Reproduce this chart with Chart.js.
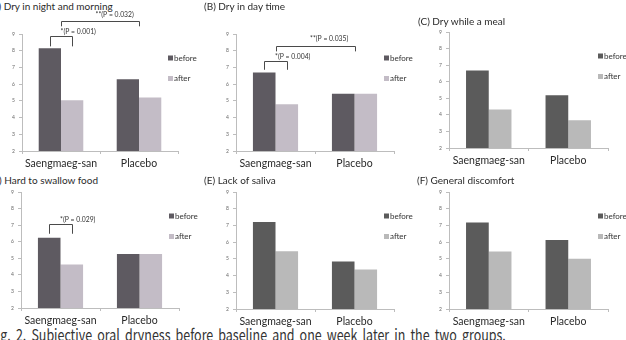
<!DOCTYPE html>
<html>
<head>
<meta charset="utf-8">
<title>Subjective oral dryness</title>
<script src="https://cdn.jsdelivr.net/npm/chart.js"></script>
<style>
  html, body { margin: 0; padding: 0; background: #fff; }
  body { width: 626px; height: 340px; position: relative; overflow: hidden; font-family: Lato, sans-serif; }
  canvas { position: absolute; }
  .title { position: absolute; font-size: 10px; line-height: 10px; color: #2a2a2a; white-space: nowrap; }
  .caption { position: absolute; left: -10px; top: 326px; font-family: "Noto Sans CJK KR", sans-serif; font-size: 16px; line-height: 16px;
             color: #333; white-space: nowrap; word-spacing: 3px; transform-origin: left top; }
</style>
</head>
<body>
<div class="caption" id="caption">Fig. 2. Subjective oral dryness before baseline and one week later in the two groups.</div>
<script>
// data
const groups = ['Saengmaeg-san', 'Placebo'];
const seriesNames = ['before', 'after'];
const yMin = 2, yMax = 9;

const nightBefore = [8.15, 6.3];
const nightAfter = [5.04, 5.2];
const dayBefore = [6.7, 5.42];
const dayAfter = [4.8, 5.42];
const mealBefore = [6.68, 5.18];
const mealAfter = [4.33, 3.68];
const swallowBefore = [6.24, 5.26];
const swallowAfter = [4.63, 5.26];
const salivaBefore = [7.2, 4.84];
const salivaAfter = [5.46, 4.36];
const discomfortBefore = [7.18, 6.13];
const discomfortAfter = [5.44, 5.0];

// significance brackets (levels in axis units)
const sigNight = [
  { text: '*(P = 0.001)', from: { bar: [0, 0] }, to: { bar: [1, 0] }, top: 8.86, leg: 8.26, labelY: 9.14, dx: -1 },
  { text: '**(P = 0.032)', from: { cat: 0 }, to: { cat: 1 }, top: 9.8, leg: 9.46, labelY: 10.16, dx: -5 }
];
const sigDay = [
  { text: '*(P = 0.004)', from: { bar: [0, 0] }, to: { bar: [1, 0] }, top: 7.4, leg: 6.86, labelY: 7.66, dx: -1 },
  { text: '**(P = 0.035)', from: { cat: 0 }, to: { cat: 1 }, top: 8.26, leg: 7.96, labelY: 8.7, dx: -6 }
];
const sigSwallow = [
  { text: '*(P = 0.029)', from: { bar: [0, 0] }, to: { bar: [1, 0] }, top: 7.06, leg: 6.48, labelY: 7.34, dx: -1 }
];

const lavender = ['#5e5a61', '#c3bcc6'];
const grey = ['#5b5b5b', '#b9b9b9'];

const panels = [
  { title: '(A) Dry in night and morning', before: nightBefore, after: nightAfter, sig: sigNight, colors: lavender,
    box: { left: 0, top: 0, w: 225, h: 172 }, area: { left: 22, right: 178, top: 34, bottom: 151 }, tpos: [-11, 1] },
  { title: '(B) Dry in day time', before: dayBefore, after: dayAfter, sig: sigDay, colors: lavender,
    box: { left: 205, top: 0, w: 225, h: 172 }, area: { left: 31, right: 189, top: 34, bottom: 151 }, tpos: [204, 1] },
  { title: '(C) Dry while a meal', before: mealBefore, after: mealAfter, sig: [], colors: grey,
    box: { left: 410, top: 0, w: 216, h: 170 }, area: { left: 39, right: 198, top: 32, bottom: 148 }, tpos: [418, 16] },
  { title: '(D) Hard to swallow food', before: swallowBefore, after: swallowAfter, sig: sigSwallow, colors: lavender,
    box: { left: 0, top: 158, w: 225, h: 172 }, area: { left: 21, right: 179, top: 34, bottom: 150 }, tpos: [-11, 175] },
  { title: '(E) Lack of saliva', before: salivaBefore, after: salivaAfter, sig: [], colors: grey,
    box: { left: 205, top: 158, w: 225, h: 172 }, area: { left: 31, right: 189, top: 34, bottom: 151 }, tpos: [204, 175] },
  { title: '(F) General discomfort', before: discomfortBefore, after: discomfortAfter, sig: [], colors: grey,
    box: { left: 410, top: 158, w: 216, h: 172 }, area: { left: 39, right: 198, top: 34, bottom: 151 }, tpos: [417, 175] }
];

function xOf(chart, ref) {
  if (ref.bar) return chart.getDatasetMeta(ref.bar[0]).data[ref.bar[1]].x;
  return chart.scales.x.getPixelForValue(ref.cat);
}

// brackets with P values
const sigPlugin = {
  id: 'sigMarks',
  afterDatasetsDraw(chart, args, opts) {
    const { ctx } = chart;
    const y = chart.scales.y;
    (opts.items || []).forEach(s => {
      const xa = Math.round(xOf(chart, s.from)) + 0.5;
      const xb = Math.round(xOf(chart, s.to)) + 0.5;
      const yt = Math.round(y.getPixelForValue(s.top)) + 0.5;
      const yl = y.getPixelForValue(s.leg);
      ctx.save();
      ctx.strokeStyle = '#4a4a4a';
      ctx.lineWidth = 1;
      ctx.beginPath();
      ctx.moveTo(xa, yl); ctx.lineTo(xa, yt); ctx.lineTo(xb, yt); ctx.lineTo(xb, yl);
      ctx.stroke();
      ctx.fillStyle = '#333';
      ctx.font = '6.8px Lato';
      ctx.textAlign = 'left';
      ctx.textBaseline = 'middle';
      ctx.fillText(s.text, (xa + xb) / 2 + s.dx, y.getPixelForValue(s.labelY));
      ctx.restore();
    });
  }
};

// legend at the right of the plot
const sideLegend = {
  id: 'sideLegend',
  afterDraw(chart) {
    const { ctx, chartArea } = chart;
    chart.data.datasets.forEach((ds, i) => {
      const x = chartArea.right - 10;
      const yc = chartArea.top + 24 + i * 20.5;
      ctx.save();
      ctx.fillStyle = ds.backgroundColor;
      ctx.fillRect(x, yc - 2.5, 5, 5);
      ctx.fillStyle = '#333';
      ctx.font = '8px Lato';
      ctx.textAlign = 'left';
      ctx.textBaseline = 'middle';
      ctx.fillText(ds.label, x + 6, yc);
      ctx.restore();
    });
  }
};

panels.forEach(p => {
  const t = document.createElement('div');
  t.className = 'title';
  t.textContent = p.title;
  t.style.left = p.tpos[0] + 'px';
  t.style.top = p.tpos[1] + 'px';
  document.body.appendChild(t);

  const cv = document.createElement('canvas');
  cv.width = p.box.w; cv.height = p.box.h;
  cv.style.left = p.box.left + 'px'; cv.style.top = p.box.top + 'px';
  cv.style.width = p.box.w + 'px'; cv.style.height = p.box.h + 'px';
  document.body.appendChild(cv);

  const axisColor = '#bdbdbd';
  new Chart(cv, {
    type: 'bar',
    data: {
      labels: groups,
      datasets: [
        { label: seriesNames[0], data: p.before, backgroundColor: p.colors[0], categoryPercentage: 2 / 3.5, barPercentage: 1 },
        { label: seriesNames[1], data: p.after, backgroundColor: p.colors[1], categoryPercentage: 2 / 3.5, barPercentage: 1 }
      ]
    },
    options: {
      responsive: false,
      animation: false,
      devicePixelRatio: 1,
      layout: { padding: { left: 0, top: p.area.top, right: p.box.w - p.area.right, bottom: 0 } },
      plugins: {
        legend: { display: false },
        tooltip: { enabled: false },
        sigMarks: { items: p.sig }
      },
      scales: {
        x: {
          grid: { offset: true, drawOnChartArea: false, tickLength: 3, color: axisColor },
          border: { color: axisColor },
          ticks: { font: { family: 'Lato', size: 10.5 }, color: '#2a2a2a', padding: 3, maxRotation: 0 },
          afterFit: s => { s.height = p.box.h - p.area.bottom; }
        },
        y: {
          min: yMin, max: yMax,
          grid: { drawOnChartArea: false, tickLength: 3, color: axisColor },
          border: { color: axisColor },
          ticks: { stepSize: 1, font: { family: 'Lato', size: 5 }, color: '#666', padding: 4 },
          afterFit: s => { s.width = p.area.left; }
        }
      }
    },
    plugins: [sigPlugin, sideLegend]
  });
});

// squeeze the caption to the width it has in the figure
const cap = document.getElementById('caption');
cap.style.transform = 'scaleX(' + (516 / cap.scrollWidth) + ')';
</script>
</body>
</html>
